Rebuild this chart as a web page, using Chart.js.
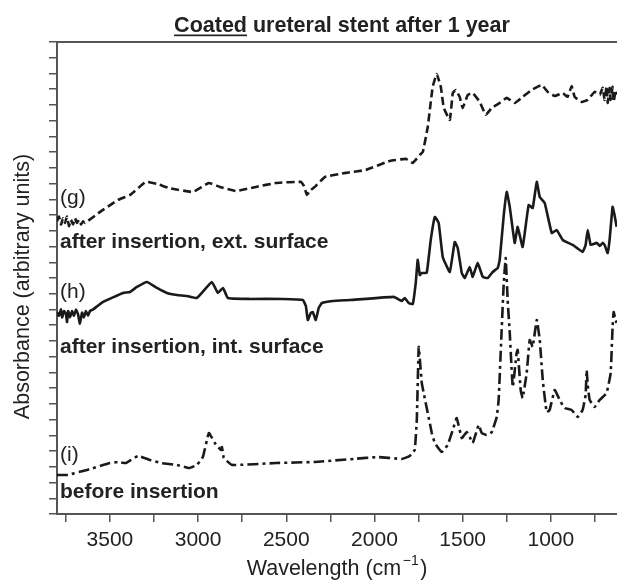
<!DOCTYPE html>
<html><head><meta charset="utf-8">
<script src="https://cdn.jsdelivr.net/npm/chart.js@4.4.0/dist/chart.umd.min.js"></script>
<style>html,body{margin:0;padding:0;background:#fff}</style>
</head><body>
<canvas id="c" width="617" height="580"></canvas>
<script>
const titleText = "Coated ureteral stent after 1 year";
const underlinedWord = "Coated";
const xTitleMain = "Wavelength (cm";
const xTitleSup = "\u22121";
const xTitleEnd = ")";
const yTitle = "Absorbance (arbitrary units)";
const xTickLabels = [3500, 3000, 2500, 2000, 1500, 1000];
const curveNames = ["(g)", "(h)", "(i)"];
const curveDescriptions = ["after insertion, ext. surface", "after insertion, int. surface", "before insertion"];

// (g) after insertion, external surface (dashed)
const gWave = [3800,3789,3777,3766,3755,3743,3732,3721,3709,3698,3687,3675,3664,3653,3641,3556,3454,3386,3296,3233,3165,3029,2939,2876,2786,2672,2559,2417,2400,2383,2361,2338,2281,2162,2049,1913,1823,1783,1743,1726,1698,1670,1647,1624,1607,1573,1556,1539,1517,1500,1471,1443,1403,1369,1335,1290,1250,1205,1160,1109,1052,1018,978,933,905,882,865,825,791,752,723,706,695,684,678,667,661,650,644,633,627];
const gAbs = [18.6,18.9,18.4,18.8,18.5,18.9,18.3,18.7,18.4,18.8,18.5,18.7,18.4,18.6,18.5,19.2,19.96,20.28,21.11,20.98,20.72,20.47,21.04,20.79,20.53,20.79,21.04,21.11,20.85,20.28,20.6,20.79,21.42,21.68,21.87,22.44,22.57,22.31,22.82,23.01,24.6,27.15,27.97,27.15,25.81,25.05,26.76,26.95,26.51,25.81,26.64,26.76,26.19,25.37,25.81,26.13,26.45,26.13,26.51,26.95,27.27,26.83,26.57,26.76,26.51,27.2,26.51,26.19,26.32,26.83,26.64,27.08,26.32,27.2,26.13,27.08,26.32,27.15,26.19,26.95,26.64];

// (h) after insertion, internal surface (solid)
const hWave = [3800,3789,3777,3771,3760,3749,3743,3737,3726,3715,3704,3692,3681,3670,3658,3647,3636,3624,3613,3596,3539,3426,3386,3347,3290,3233,3177,3120,3063,3007,2922,2888,2859,2831,2706,2519,2406,2389,2378,2361,2350,2333,2316,2298,2236,2140,1891,1857,1845,1828,1806,1783,1766,1755,1743,1732,1704,1681,1658,1636,1613,1573,1545,1528,1505,1488,1460,1443,1415,1386,1358,1330,1301,1290,1267,1250,1233,1205,1188,1160,1126,1103,1080,1063,1035,995,967,933,876,820,803,791,774,740,723,706,695,678,667,650,639,627];
const hAbs = [12.84,12.6,13.0,12.5,12.9,12.7,12.2,12.9,12.5,12.9,12.6,13.0,12.7,12.1,12.8,12.5,12.9,12.6,12.9,13.0,13.48,14.05,14.11,14.43,14.75,14.37,14.05,13.92,13.86,13.73,14.75,14.05,14.37,13.73,13.67,13.67,13.6,13.22,12.33,12.78,12.84,12.33,13.1,13.41,13.54,13.6,13.8,13.6,13.54,13.73,13.41,13.35,14.69,16.15,15.19,15.32,15.32,17.42,18.88,18.5,16.34,15.38,17.29,16.91,15.32,15.0,15.7,15.07,15.96,15.07,15.0,15.38,15.64,16.15,19.0,20.47,19.52,17.23,18.25,16.97,19.64,19.45,21.11,20.15,19.77,17.86,18.05,17.42,17.1,16.66,17.1,18.05,17.1,17.23,17.04,17.23,17.1,16.59,17.42,19.52,19.0,18.25];

// (i) before insertion (dash-dot)
const iWave = [3800,3743,3630,3500,3454,3409,3341,3273,3211,3120,3052,3007,2973,2939,2905,2871,2865,2854,2808,2559,2338,2117,1981,1845,1800,1772,1760,1749,1732,1721,1698,1675,1658,1619,1585,1556,1534,1505,1477,1460,1443,1409,1392,1364,1335,1307,1296,1279,1267,1256,1245,1233,1216,1194,1188,1171,1160,1137,1120,1103,1080,1063,1046,1024,1007,978,950,922,882,848,820,803,797,791,780,752,723,684,661,650,644,633,627];
const iAbs = [2.48,2.48,2.8,3.24,3.31,3.24,3.69,3.43,3.24,3.12,2.92,3.12,3.62,5.15,4.51,4.07,4.26,3.56,3.12,3.24,3.31,3.5,3.62,3.5,3.69,4.07,5.98,10.62,8.33,7.69,6.42,5.15,4.51,3.94,4.39,5.34,6.1,4.83,5.21,4.9,4.51,5.66,5.15,5.02,5.21,6.17,7.25,11.7,14.69,16.27,13.6,11.51,8.07,10.24,10.43,7.88,7.37,8.96,11.06,10.62,12.33,11.06,8.52,6.48,6.61,7.88,7.25,6.74,6.61,6.17,6.61,7.57,9.15,8.2,7.25,6.8,7.25,7.69,8.96,11.89,12.84,12.33,12.14];

const toPts = (w, a) => w.map((x, k) => ({x: x, y: a[k]}));

const FONT = '"Liberation Sans", Arial, Helvetica, sans-serif';
const INK = '#1a1a1a';
const AXIS = '#555555';

// label anchors in data space (absorbance units)
const labelAnchors = [
  {name: 0, y: 20.1, dy: 17.3},
  {name: 1, y: 14.1, dy: 10.6},
  {name: 2, y: 3.75, dy: 1.4}
];

const textPlugin = {
  id: 'texts',
  afterDraw(chart) {
    const ctx = chart.ctx;
    const xs = chart.scales.x, ys = chart.scales.y;
    const ca = chart.chartArea;
    ctx.save();
    ctx.fillStyle = '#222';
    ctx.textAlign = 'left';
    ctx.textBaseline = 'alphabetic';
    // Title with underlined first word
    ctx.font = 'bold 21.5px ' + FONT;
    const tw = ctx.measureText(titleText).width;
    const tx = (ca.left + ca.right) / 2 + 5 - tw / 2;
    const ty = 32;
    ctx.fillText(titleText, tx, ty);
    const uw = ctx.measureText(underlinedWord).width;
    ctx.fillRect(tx, ty + 2.5, uw, 1.7);
    // X axis title with superscript
    ctx.font = '21.5px ' + FONT;
    const w1 = ctx.measureText(xTitleMain).width;
    ctx.font = '14px ' + FONT;
    const w2 = ctx.measureText(xTitleSup).width;
    ctx.font = '21.5px ' + FONT;
    const w3 = ctx.measureText(xTitleEnd).width;
    let x0 = (ca.left + ca.right) / 2 - (w1 + w2 + w3 + 3) / 2;
    const by = 575;
    ctx.fillText(xTitleMain, x0, by);
    ctx.font = '14px ' + FONT;
    ctx.fillText(xTitleSup, x0 + w1 + 1.5, by - 10);
    ctx.font = '21.5px ' + FONT;
    ctx.fillText(xTitleEnd, x0 + w1 + w2 + 3, by);
    // Y axis title (rotated)
    ctx.save();
    ctx.translate(28.5, (ca.top + ca.bottom) / 2 + 8.5);
    ctx.rotate(-Math.PI / 2);
    ctx.textAlign = 'center';
    ctx.font = '21.5px ' + FONT;
    ctx.fillText(yTitle, 0, 0);
    ctx.restore();
    // curve labels
    ctx.textBaseline = 'middle';
    const lx = xs.getPixelForValue(3783);
    labelAnchors.forEach(a => {
      ctx.font = '21px ' + FONT;
      ctx.fillText(curveNames[a.name], lx, ys.getPixelForValue(a.y));
      ctx.font = 'bold 21px ' + FONT;
      ctx.fillText(curveDescriptions[a.name], lx, ys.getPixelForValue(a.dy));
    });
    ctx.restore();
  }
};

new Chart(document.getElementById('c'), {
  type: 'line',
  data: {
    datasets: [
      {label: '(g)', data: toPts(gWave, gAbs), borderColor: INK, borderWidth: 2.6, borderDash: [8, 4], pointRadius: 0, fill: false, tension: 0.1},
      {label: '(h)', data: toPts(hWave, hAbs), borderColor: INK, borderWidth: 2.6, pointRadius: 0, fill: false, tension: 0.1},
      {label: '(i)', data: toPts(iWave, iAbs), borderColor: INK, borderWidth: 2.6, borderDash: [11, 4, 3, 4], pointRadius: 0, fill: false, tension: 0.1}
    ]
  },
  options: {
    responsive: false,
    animation: false,
    devicePixelRatio: 1,
    layout: {padding: {top: 42, left: 0, right: 0, bottom: 0}},
    plugins: {legend: {display: false}, title: {display: false}, tooltip: {enabled: false}},
    scales: {
      x: {
        type: 'linear', position: 'bottom', reverse: true, min: 625, max: 3800,
        ticks: {
          stepSize: 250, includeBounds: false, autoSkip: false, maxRotation: 0, minRotation: 0,
          callback: (v) => xTickLabels.includes(v) ? String(v) : '',
          font: {family: FONT, size: 21}, color: '#222', padding: 6
        },
        grid: {drawOnChartArea: false, drawTicks: true, tickLength: 8, color: AXIS, lineWidth: 1.5},
        border: {display: true, color: AXIS, width: 2},
        afterFit(s) { s.height = 66; }
      },
      xTop: {
        axis: 'x', type: 'linear', position: 'top', reverse: true, min: 625, max: 3800,
        ticks: {display: false},
        grid: {display: false},
        border: {display: true, color: AXIS, width: 2},
        afterFit(s) { s.height = 0; }
      },
      y: {
        type: 'linear', position: 'left', min: 0, max: 30,
        ticks: {display: false, stepSize: 1},
        grid: {drawOnChartArea: false, drawTicks: true, tickLength: 8, color: AXIS, lineWidth: 1.5},
        border: {display: true, color: AXIS, width: 2},
        title: {display: false, text: yTitle},
        afterFit(s) { s.width = 57; }
      }
    }
  },
  plugins: [textPlugin]
});
</script>
</body></html>
